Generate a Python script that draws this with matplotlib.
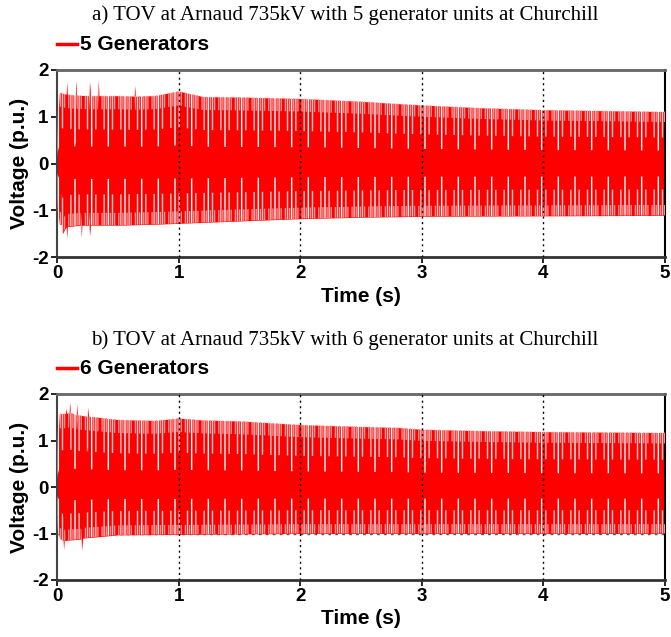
import matplotlib
matplotlib.use("Agg")
import matplotlib.pyplot as plt
import numpy as np

plt.rcParams["hatch.linewidth"] = 1.0

# ---- data: envelope (peak) values ----
t_a = [0.0, 0.005, 0.02, 0.05, 0.075, 0.08, 0.085, 0.15, 0.155, 0.16, 0.265, 0.27, 0.275,
       0.335, 0.34, 0.345, 0.5, 0.635, 0.64, 0.645, 0.8, 1.0, 1.2, 1.5, 2.0, 2.5, 2.8,
       3.0, 3.5, 4.0, 4.5, 5.0]
up_a = [0.5, 1.0, 1.52, 1.5, 1.48, 1.75, 1.48, 1.46, 1.79, 1.46, 1.45, 1.75, 1.45,
        1.45, 1.78, 1.45, 1.45, 1.44, 1.67, 1.44, 1.45, 1.55, 1.43, 1.42, 1.39, 1.33, 1.28,
        1.25, 1.19, 1.15, 1.13, 1.11]
t_a_lo = [0.0, 0.005, 0.02, 0.04, 0.045, 0.075, 0.08, 0.085, 0.195, 0.2, 0.205, 0.265,
          0.27, 0.275, 0.5, 0.8, 1.0, 1.5, 2.0, 2.5, 3.0, 4.0, 5.0]
lo_a = [-0.75, -1.0, -1.3, -1.3, -1.5, -1.35, -1.6, -1.35, -1.32, -1.57, -1.32, -1.32,
        -1.55, -1.32, -1.32, -1.3, -1.28, -1.23, -1.18, -1.15, -1.13, -1.12, -1.11]

t_b = [0.0, 0.005, 0.02, 0.07, 0.075, 0.08, 0.1, 0.105, 0.11, 0.16, 0.165, 0.17,
       0.25, 0.255, 0.26, 0.5, 0.8, 1.0, 1.2, 1.5, 2.0, 2.5, 2.8, 3.0, 3.5, 4.0, 4.5, 5.0]
up_b = [0.7, 1.1, 1.58, 1.58, 1.7, 1.58, 1.6, 1.82, 1.6, 1.55, 1.78, 1.55,
        1.52, 1.72, 1.52, 1.45, 1.43, 1.48, 1.44, 1.42, 1.34, 1.3, 1.28, 1.24, 1.21, 1.19, 1.18, 1.17]
t_b_lo = [0.0, 0.005, 0.02, 0.05, 0.055, 0.06, 0.2, 0.205, 0.21, 0.5, 1.0, 2.0, 3.0, 4.0, 5.0]
lo_b = [-0.7, -0.9, -1.1, -1.15, -1.34, -1.15, -1.12, -1.37, -1.1, -1.03, -1.02, -1.0,
        -1.0, -1.0, -1.0]

titles = ["a) TOV at Arnaud 735kV with 5 generator units at Churchill",
          "b) TOV at Arnaud 735kV with 6 generator units at Churchill"]
legends = ["5 Generators", "6 Generators"]
xticks = [0, 1, 2, 3, 4, 5]
yticks = [-2, -1, 0, 1, 2]

W, H = 671, 637
fig = plt.figure(figsize=(W / 100, H / 100), dpi=100)

def fx(px):
    return px / W

def fy(py):
    return 1 - py / H

panels = [
    dict(top=70, bot=257, t_up=t_a, up=up_a, t_lo=t_a_lo, lo=lo_a, title_y=15, leg_y=44),
    dict(top=394, bot=580, t_up=t_b, up=up_b, t_lo=t_b_lo, lo=lo_b, title_y=340, leg_y=368),
]

sans = ["Liberation Sans", "DejaVu Sans"]
serif = ["Liberation Serif", "DejaVu Serif"]
red = "#ff0000"

# texture layers: (fraction of envelope where stripes start, hatch, stripe colour)
layers = [(0.80, "||||", "#ff9090"), (0.50, "||", "#ffc8c8"), (0.25, "|", "white")]

for i, p in enumerate(panels):
    left, right = 57, 665
    ax = fig.add_axes([fx(left), fy(p["bot"]), fx(right - left), (p["bot"] - p["top"]) / H])
    ax.set_xlim(0, 5)
    ax.set_ylim(-2, 2)
    for gx in [1, 2, 3, 4]:
        ax.axvline(gx, color="black", lw=1.0, ls=(0, (1.5, 2.5)), zorder=4)
    for gy in [-1, 0, 1]:
        ax.axhline(gy, color="#555555", lw=1.0, ls=(0, (2, 3)), zorder=1)
    tt = np.union1d(p["t_up"], p["t_lo"])
    upi = np.interp(tt, p["t_up"], p["up"])
    loi = np.interp(tt, p["t_lo"], p["lo"])
    ax.fill_between(tt, loi, upi, color=red, lw=0, zorder=2)
    for frac, htch, col in layers:
        ax.fill_between(tt, frac * upi, upi, facecolor="none", edgecolor=col,
                        hatch=htch, lw=0, zorder=3)
        ax.fill_between(tt, loi, frac * loi, facecolor="none", edgecolor=col,
                        hatch=htch, lw=0, zorder=3)

    ax.set_xticks(xticks)
    ax.set_yticks(yticks)
    ax.set_xticklabels([str(v) for v in xticks], fontsize=13.5, fontweight="bold", family=sans)
    ax.set_yticklabels([str(v) for v in yticks], fontsize=13.5, fontweight="bold", family=sans)
    ax.tick_params(axis="both", length=4, width=1.2, color="black", pad=2)
    ax.set_xlabel("Time (s)", fontsize=15, fontweight="bold", family=sans, labelpad=3)
    ax.set_ylabel("Voltage (p.u.)", fontsize=15, fontweight="bold", family=sans, labelpad=2)
    ax.spines["top"].set_color("#666666")
    ax.spines["top"].set_linewidth(2)
    ax.spines["left"].set_color("#444444")
    ax.spines["left"].set_linewidth(1.5)
    ax.spines["bottom"].set_color("#333333")
    ax.spines["bottom"].set_linewidth(2)
    ax.spines["right"].set_color("black")
    ax.spines["right"].set_linewidth(1.5)

    fig.text(fx(345), fy(p["title_y"]), titles[i], ha="center", va="center",
             fontsize=15, family=serif)
    y_leg = fy(p["leg_y"])
    fig.add_artist(plt.Line2D([fx(57), fx(77)], [y_leg, y_leg], color=red, lw=2.5))
    fig.text(fx(80), y_leg, legends[i], ha="left", va="center", fontsize=15,
             fontweight="bold", family=sans)

fig.savefig("out.png", dpi=100)
